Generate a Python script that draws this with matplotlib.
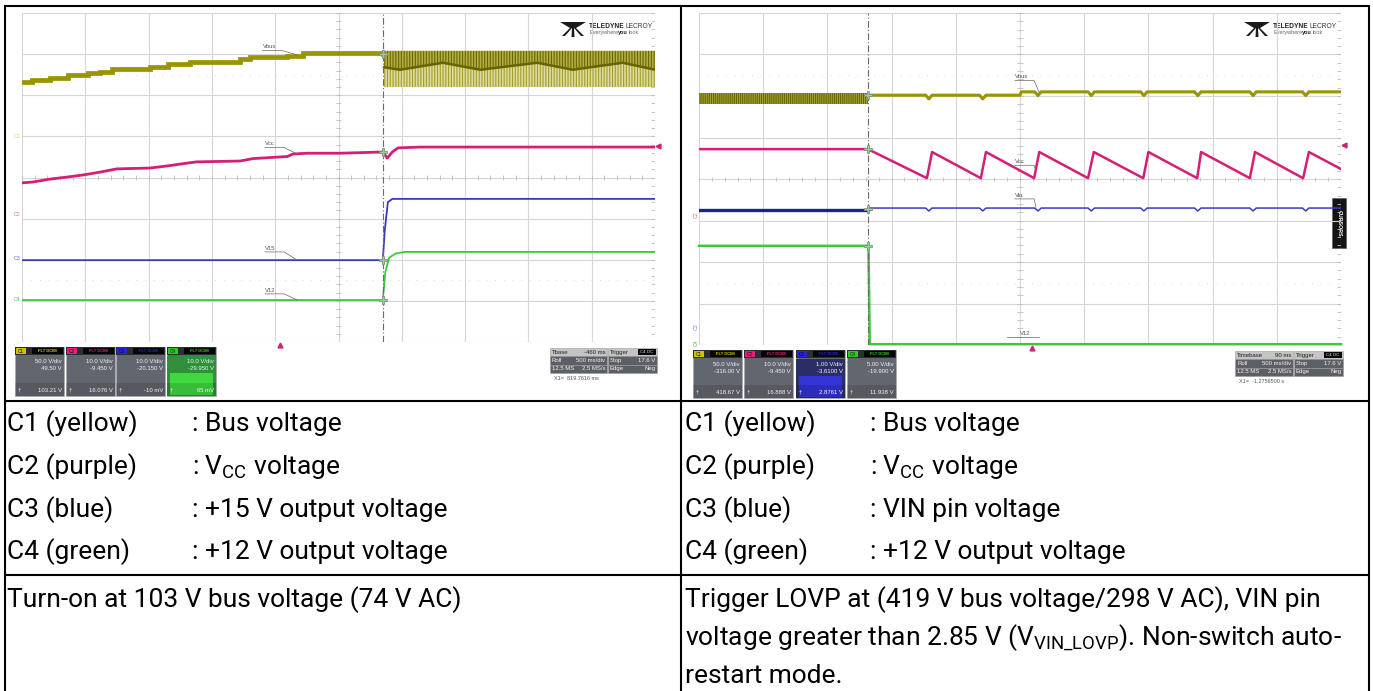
import matplotlib.pyplot as plt
from matplotlib.patches import Rectangle, Polygon

plt.rcParams['font.family'] = ['Roboto', 'DejaVu Sans']
plt.rcParams['mathtext.fontset'] = 'custom'
plt.rcParams['mathtext.rm'] = 'Roboto'
plt.rcParams['mathtext.it'] = 'Roboto:italic'
plt.rcParams['hatch.linewidth'] = 0.8

W, H = 1373, 691

# ---------------- table text ----------------
legend_channels = ["C1 (yellow)", "C2 (purple)", "C3 (blue)", "C4 (green)"]
legend_left = [": Bus voltage", ": V$_{\\mathrm{CC}}$ voltage",
               ": +15 V output voltage", ": +12 V output voltage"]
legend_right = [": Bus voltage", ": V$_{\\mathrm{CC}}$ voltage",
                ": VIN pin voltage", ": +12 V output voltage"]
caption_left = ["Turn-on at 103 V bus voltage (74 V AC)"]
caption_right = ["Trigger LOVP at (419 V bus voltage/298 V AC), VIN pin",
                 "voltage greater than 2.85 V (V$_{\\mathrm{VIN\\_LOVP}}$). Non-switch auto-",
                 "restart mode."]

# ---------------- left scope (turn-on), time and level in divisions ----------------
L_CURSOR = 5.70
l_bus_t = [0, 0.16, 0.44, 0.73, 1.04, 1.23, 1.42, 2.02, 2.31, 2.65, 3.44, 3.60, 4.19, 4.44, 5.02, 5.70]
l_bus_v = [2.32, 2.37, 2.42, 2.49, 2.55, 2.57, 2.65, 2.69, 2.77, 2.82, 2.87, 2.92, 2.96, 3.03, 3.03, 3.00]
l_ripple_top, l_ripple_bot = 3.08, 2.20
l_env_t = [5.72, 5.97, 6.65, 7.24, 8.14, 8.70, 9.49, 10.0]
l_env_v = [2.68, 2.62, 2.79, 2.62, 2.79, 2.62, 2.79, 2.62]
l_vcc_t = [0, 0.17, 0.44, 0.71, 0.96, 1.23, 1.50, 2.02, 2.29, 2.61, 2.76, 3.44, 3.65, 4.19,
           4.28, 4.50, 5.02, 5.70, 5.77, 5.85, 5.94, 6.29, 10.0]
l_vcc_v = [-0.13, -0.11, -0.04, 0.01, 0.06, 0.13, 0.21, 0.23, 0.28, 0.35, 0.38, 0.40, 0.46, 0.51,
           0.57, 0.59, 0.59, 0.62, 0.47, 0.62, 0.72, 0.74, 0.74]
l_v15_t = [0, 5.70, 5.73, 5.78, 5.85, 10]
l_v15_v = [-2.01, -2.01, -1.3, -0.6, -0.52, -0.52]
l_v12_t = [0, 5.70, 5.74, 5.80, 5.90, 6.05, 10]
l_v12_v = [-2.98, -2.98, -2.3, -1.95, -1.85, -1.81, -1.81]
l_cross_v = [3.00, 0.62, -2.01, -2.98]

# ---------------- right scope (LOVP) ----------------
R_CURSOR = 2.63
r_bus_band = (1.81, 2.08)
r_bus_dips = [3.58, 4.42, 5.28, 6.11, 6.93, 7.77, 8.63, 9.45]
r_bus_level = (2.02, 2.10)      # before / after the small step at 5.0 div
r_vcc_t = [0, 2.63, 3.55, 3.63, 4.39, 4.47, 5.22, 5.30, 6.06, 6.15, 6.92, 7.00, 7.76, 7.82,
           8.58, 8.66, 9.41, 9.50, 10.0]
r_vcc_v = [0.72, 0.72, 0.02, 0.65, 0.02, 0.65, 0.02, 0.65, 0.02, 0.65, 0.02, 0.65, 0.02, 0.65,
           0.02, 0.65, 0.02, 0.65, 0.24]
r_vin_pre, r_vin_post, r_vin_dip = -0.75, -0.70, -0.77
r_v12_t = [0, 2.64, 2.66, 10]
r_v12_v = [-1.61, -1.61, -3.98, -3.98]
r_cross_v = [2.02, 0.72, -0.72, -1.61]

# ---------------- scope readouts ----------------
chan_tags = ["C1", "C2", "C3", "C4"]
chan_colors = ["#cfc200", "#e0207a", "#2424d8", "#22d022"]
l_vdiv = ["50.0 V/div", "10.0 V/div", "10.0 V/div", "10.0 V/div"]
l_offs = ["49.50 V", "-9.450 V", "-20.150 V", "-29.950 V"]
l_meas = ["103.21 V", "16.076 V", "-10 mV", "65 mV"]
r_vdiv = ["50.0 V/div", "10.0 V/div", "1.00 V/div", "5.00 V/div"]
r_offs = ["-316.00 V", "-9.450 V", "-3.6100 V", "-19.900 V"]
r_meas = ["418.67 V", "16.888 V", "2.8761 V", "11.938 V"]
l_time = [("Tbase", "-460 ms"), ("Roll", "500 ms/div"), ("12.5 MS", "2.5 MS/s")]
r_time = [("Timebase", "90 ms"), ("Roll", "500 ms/div"), ("12.5 MS", "2.5 MS/s")]
trig = [("Trigger", ""), ("Stop", "17.6 V"), ("Edge", "Neg")]
l_x1 = "X1=  819.7616 ms"
r_x1 = "X1=  -1.2756500 s"

YEL, MAG, BLU, GRN = "#9a9400", "#d41f74", "#3a3ab8", "#3cc83c"
GRID = "#d6d6d6"
TINY = ['Liberation Sans', 'DejaVu Sans']

fig = plt.figure(figsize=(W / 100, H / 100), dpi=100)
bg = fig.add_axes([0, 0, 1, 1])
bg.set_xlim(0, W)
bg.set_ylim(H, 0)
bg.axis('off')


def px_axes(x0, y0, x1, y1):
    ax = fig.add_axes([x0 / W, 1 - y1 / H, (x1 - x0) / W, (y1 - y0) / H])
    ax.set_xlim(0, 10)
    ax.set_ylim(-4, 4)
    ax.axis('off')
    for i in range(11):
        ax.axvline(i, color=GRID, lw=0.8, zorder=0)
    for j in range(-4, 5):
        ax.axhline(j, color=GRID, lw=0.8, zorder=0)
    for j in (2.5, -2.5):
        ax.axhline(j, color="#dcdcdc", lw=0.7, ls=(0, (1, 8)), zorder=0)
    ticks = [k * 0.2 for k in range(51)]
    ax.vlines(ticks, -0.06, 0.06, color="#bdbdbd", lw=0.6, zorder=0)
    yt = [-4 + k * 0.2 for k in range(41)]
    ax.hlines(yt, 4.96, 5.04, color="#bdbdbd", lw=0.6, zorder=0)
    ax.hlines(yt, 9.93, 10.0, color="#bdbdbd", lw=0.6, zorder=0)
    return ax


def trace_label(ax, x, y, txt, x2, y2):
    ax.text(x, y, txt, fontsize=4.2, color="#555555", family=TINY, ha='left', va='bottom')
    ax.plot([x, x + 0.3, x2], [y - 0.03, y - 0.03, y2], color="#666666", lw=0.5)


# ---------------- left scope ----------------
axl = px_axes(22, 13, 655, 342)
axl.plot(l_bus_t, l_bus_v, color=YEL, lw=3.4, drawstyle='steps-post', solid_joinstyle='miter')
axl.fill_between(l_env_t, l_env_v, l_ripple_top, facecolor="#b3ae45", edgecolor="#6a6600",
                 hatch='||||||', lw=0)
axl.fill_between(l_env_t, l_ripple_bot, l_env_v, facecolor="#dedb9e", edgecolor="#a29e2c",
                 hatch='||||||', lw=0)
axl.plot(l_env_t, l_env_v, color="#666300", lw=1.8)
axl.plot(l_vcc_t, l_vcc_v, color=MAG, lw=2.0)
axl.plot(l_v15_t, l_v15_v, color=BLU, lw=1.3)
axl.plot(l_v12_t, l_v12_v, color=GRN, lw=1.3)
axl.axvline(L_CURSOR, color="#6a6a6a", lw=0.8, ls=(0, (6, 2, 1, 2)))
axl.plot([L_CURSOR] * 4, l_cross_v, 'P', ms=6, mfc="#7ee07e", mec="#8a8a8a", mew=0.6, zorder=6)
trace_label(axl, 3.80, 3.12, "Vbus", 4.35, 2.98)
trace_label(axl, 3.84, 0.76, "Vcc", 4.35, 0.57)
trace_label(axl, 3.84, -1.78, "V15", 4.35, -2.01)
trace_label(axl, 3.84, -2.80, "V12", 4.35, -2.98)

# ---------------- right scope ----------------
axr = px_axes(699, 13, 1341, 345)
axr.fill_between([0, R_CURSOR], r_bus_band[0], r_bus_band[1], facecolor="#a9a43a",
                 edgecolor="#6a6700", hatch='||||||||', lw=0)
pts = []
for d in r_bus_dips:
    base = r_bus_level[0] if d < 5.0 else r_bus_level[1]
    pts += [(d - 0.05, base), (d, base - 0.09), (d + 0.05, base)]
pts += [(5.0, r_bus_level[0]), (5.02, r_bus_level[1]), (R_CURSOR, r_bus_level[0]), (10, r_bus_level[1])]
pts.sort()
axr.plot([p[0] for p in pts], [p[1] for p in pts], color=YEL, lw=2.2)
axr.plot(r_vcc_t, r_vcc_v, color=MAG, lw=1.8)
axr.plot([0, R_CURSOR], [r_vin_pre] * 2, color="#1e1e96", lw=2.4)
vin = [(R_CURSOR, r_vin_post), (10, r_vin_post)]
for d in r_bus_dips:
    vin += [(d - 0.05, r_vin_post), (d, r_vin_dip), (d + 0.05, r_vin_post)]
vin.sort()
axr.plot([p[0] for p in vin], [p[1] for p in vin], color=BLU, lw=1.1)
axr.plot(r_v12_t, r_v12_v, color=GRN, lw=1.8, clip_on=False)
axr.axvline(R_CURSOR, color="#6a6a6a", lw=0.8, ls=(0, (6, 2, 1, 2)))
axr.plot([R_CURSOR] * 4, r_cross_v, 'P', ms=6, mfc="#7ee07e", mec="#8a8a8a", mew=0.6, zorder=6)
trace_label(axr, 4.92, 2.40, "Vbus", 5.3, 2.08)
trace_label(axr, 4.92, 0.36, "Vcc", 5.25, 0.2)
trace_label(axr, 4.92, -0.45, "Vin", 5.25, -0.68)
axr.text(5.0, -3.78, "V12", fontsize=4.2, color="#555555", family=TINY, va='bottom')
axr.plot([4.8, 5.3], [-3.8, -3.8], color="#666666", lw=0.5)

# ---------------- overlays in pixel space ----------------
for n, (x, y, c) in enumerate([(17, 136, "#d2d088"), (17, 214, "#e070a0"),
                               (17, 258, "#6a6ad0"), (17, 299, "#50c050")]):
    bg.text(x, y, "C%d" % (n + 1), fontsize=3.8, color=c, family=TINY, ha='center', va='center')
for (y, c, n) in [(215, "#e070a0", "C2"), (327, "#8080d8", "C3"), (343, "#50c050", "C4")]:
    bg.text(696, y, n, fontsize=3.8, color=c, family=TINY, ha='center', va='center', rotation=90)

bg.plot([280], [345], marker='^', ms=3.5, color=MAG, ls='none')
bg.plot([1032], [348], marker='^', ms=3.5, color=MAG, ls='none')
bg.plot([658], [146], marker='<', ms=3.5, color=MAG, ls='none')
bg.plot([1344], [145], marker='<', ms=3.5, color=MAG, ls='none')

# CURSORS tab
bg.add_patch(Rectangle((1332, 198), 14, 50, facecolor="#141414", edgecolor="#555555", lw=0.4))
bg.text(1339, 223, "CURSORS", rotation=-90, fontsize=3.8, color="white", fontweight='bold',
        family=TINY, ha='center', va='center')


def logo(x, y):
    ink = "#1a1a1a"
    bg.add_patch(Polygon([(x, y), (x + 26, y), (x + 16, y + 6), (x + 10, y + 6)],
                         closed=True, facecolor=ink, edgecolor='none'))
    bg.add_patch(Polygon([(x + 10, y + 6), (x + 12, y + 6), (x + 5, y + 14), (x + 2, y + 14)],
                         closed=True, facecolor=ink, edgecolor='none'))
    bg.add_patch(Polygon([(x + 12, y + 6), (x + 14, y + 6), (x + 14.5, y + 15), (x + 11.5, y + 15)],
                         closed=True, facecolor=ink, edgecolor='none'))
    bg.add_patch(Polygon([(x + 14, y + 6), (x + 16, y + 6), (x + 24, y + 14), (x + 21, y + 14)],
                         closed=True, facecolor=ink, edgecolor='none'))
    bg.text(x + 29, y + 4, "TELEDYNE", fontsize=4.8, fontweight='bold', color="#222222",
            family=TINY, va='center')
    bg.text(x + 66, y + 4, "LECROY", fontsize=4.8, color="#333333", family=TINY, va='center')
    bg.text(x + 29, y + 10.5, "Everywhere", fontsize=4.0, color="#666666", family=TINY, va='center')
    bg.text(x + 58, y + 10.5, "you", fontsize=4.0, color="#222222", fontweight='bold',
            family=TINY, va='center')
    bg.text(x + 69, y + 10.5, "look", fontsize=4.0, color="#666666", family=TINY, va='center')


logo(560, 22)
logo(1244, 22)


def chan_box(x, y, w, h, i, vdiv, offs, meas, glow=None):
    bg.add_patch(Rectangle((x, y), w, h, facecolor="#62666e", edgecolor="#a8a8a8", lw=0.5))
    if glow is not None:
        bg.add_patch(Rectangle((x, y + 9), w, h - 9, facecolor=glow[0], edgecolor='none'))
        bg.add_patch(Rectangle((x + 3, y + 26), w - 6, h - 27, facecolor=glow[1], edgecolor='none'))
    bg.add_patch(Rectangle((x, y + h - 13), w, 13, facecolor="#000000", alpha=0.12, edgecolor='none'))
    bg.add_patch(Rectangle((x, y), w, 8, facecolor="#2c2e33", edgecolor='none'))
    bg.add_patch(Rectangle((x + 1, y + 1), 10, 6, facecolor=chan_colors[i], edgecolor='none'))
    bg.text(x + 6, y + 4, chan_tags[i], fontsize=3.4, color="#111111", family=TINY,
            ha='center', va='center')
    bg.add_patch(Rectangle((x + 17, y + 1), 31, 6, facecolor="#050505", edgecolor='none'))
    bg.text(x + 32, y + 4, "FLT DCIM", fontsize=3.0, color=chan_colors[i], family=TINY,
            ha='center', va='center', fontweight='bold')
    bg.text(x + w - 2, y + 14, vdiv, fontsize=4.3, color="#f2f2f2", family=TINY, ha='right', va='center')
    bg.text(x + w - 2, y + 21, offs, fontsize=4.3, color="#f2f2f2", family=TINY, ha='right', va='center')
    bg.text(x + 3, y + h - 6, "\u2020", fontsize=4.5, color="#f2f2f2", family=TINY, ha='left', va='center')
    bg.text(x + w - 2, y + h - 6, meas, fontsize=4.3, color="#f2f2f2", family=TINY, ha='right', va='center')


l_box_x = [15, 66, 116, 167]
for i in range(4):
    glow = ("#2f8f3a", "#3fd83f") if i == 3 else None
    chan_box(l_box_x[i], 347, 49, 49, i, l_vdiv[i], l_offs[i], l_meas[i], glow)
r_box_x = [693, 744, 796, 847]
for i in range(4):
    glow = ("#2b2e66", "#3434d6") if i == 2 else None
    chan_box(r_box_x[i], 350, 49, 48, i, r_vdiv[i], r_offs[i], r_meas[i], glow)


def time_box(x, y, rows, w1, x1txt):
    for k, (a, b) in enumerate(rows):
        fc = "#c4c4c4" if k == 0 else "#5c5f66"
        tc = "#202020" if k == 0 else "#f2f2f2"
        bg.add_patch(Rectangle((x, y + 8.3 * k), w1, 8.3, facecolor=fc, edgecolor="#9a9a9a", lw=0.4))
        bg.text(x + 2, y + 8.3 * k + 4.2, a, fontsize=4.3, color=tc, family=TINY, va='center')
        bg.text(x + w1 - 1.5, y + 8.3 * k + 4.2, b, fontsize=4.3, color=tc, family=TINY,
                va='center', ha='right')
    x2 = x + w1 + 1
    for k, (a, b) in enumerate(trig):
        fc = "#c4c4c4" if k == 0 else "#5c5f66"
        tc = "#202020" if k == 0 else "#f2f2f2"
        bg.add_patch(Rectangle((x2, y + 8.3 * k), 49, 8.3, facecolor=fc, edgecolor="#9a9a9a", lw=0.4))
        bg.text(x2 + 2, y + 8.3 * k + 4.2, a, fontsize=4.3, color=tc, family=TINY, va='center')
        bg.text(x2 + 47.5, y + 8.3 * k + 4.2, b, fontsize=4.3, color=tc, family=TINY,
                va='center', ha='right')
    bg.add_patch(Rectangle((x2 + 30, y + 1), 18, 6, facecolor="#080808", edgecolor='none'))
    bg.text(x2 + 39, y + 4, "C4 DC", fontsize=3.2, color="#dddddd", family=TINY, ha='center', va='center')
    bg.text(x + 4, y + 30, x1txt, fontsize=4.0, color="#555555", family=TINY, va='center')


time_box(550, 348, l_time, 57, l_x1)
time_box(1235, 351, r_time, 58, r_x1)

# ---------------- table grid ----------------
lw = 1.5
for (xs, ys) in [([4, 1370], [6, 6]), ([5, 5], [5, 691]), ([1369, 1369], [5, 691]),
                 ([681, 681], [5, 691]), ([4, 1370], [401, 401]), ([4, 1370], [575, 575])]:
    bg.plot(xs, ys, color="black", lw=lw, solid_capstyle='butt')

FS = 19
row_base = [431, 474, 517, 559]
for k in range(4):
    bg.text(7, row_base[k], legend_channels[k], fontsize=FS, va='baseline')
    bg.text(192, row_base[k], legend_left[k], fontsize=FS, va='baseline')
    bg.text(685, row_base[k], legend_channels[k], fontsize=FS, va='baseline')
    bg.text(870, row_base[k], legend_right[k], fontsize=FS, va='baseline')
cap_base = [607, 645, 683]
bg.text(7, cap_base[0], caption_left[0], fontsize=FS, va='baseline')
for k, line in enumerate(caption_right):
    bg.text(685, cap_base[k], line, fontsize=FS, va='baseline')

fig.savefig("out.png", dpi=100)
